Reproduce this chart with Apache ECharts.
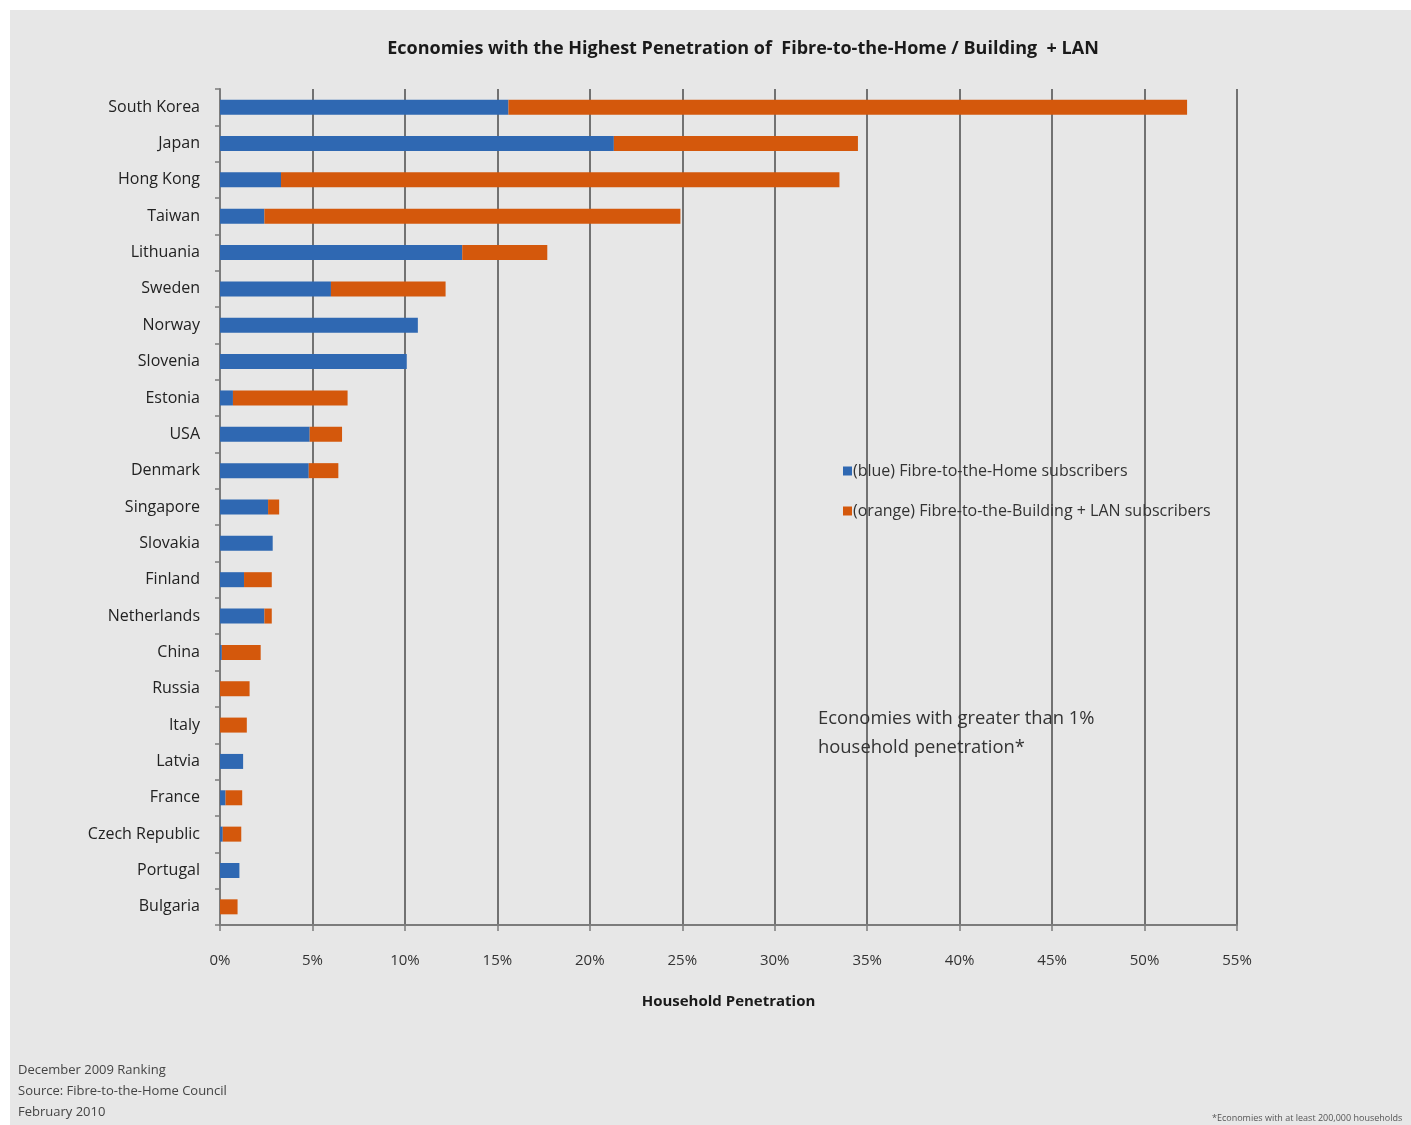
<!DOCTYPE html>
<html>
<head>
<meta charset="utf-8">
<script src="https://cdn.jsdelivr.net/npm/echarts@6/dist/echarts.min.js"></script>
<style>
  html, body { margin: 0; padding: 0; background: #ffffff; }
  #chart { width: 1411px; height: 1125px; }
</style>
</head>
<body>
<div id="chart"></div>
<script>
// Household penetration (%) by economy, December 2009 ranking
const categories = [
  'South Korea', 'Japan', 'Hong Kong', 'Taiwan', 'Lithuania', 'Sweden', 'Norway',
  'Slovenia', 'Estonia', 'USA', 'Denmark', 'Singapore', 'Slovakia', 'Finland',
  'Netherlands', 'China', 'Russia', 'Italy', 'Latvia', 'France', 'Czech Republic',
  'Portugal', 'Bulgaria'
];
// Fibre-to-the-Home share
const ftthValues = [
  15.6, 21.3, 3.3, 2.4, 13.1, 6.0, 10.7,
  10.1, 0.7, 4.85, 4.8, 2.6, 2.85, 1.3,
  2.4, 0.1, 0, 0, 1.25, 0.3, 0.15,
  1.05, 0
];
// Fibre-to-the-Building + LAN share (stacked on top of FTTH)
const fttbValues = [
  36.7, 13.2, 30.2, 22.5, 4.6, 6.2, 0,
  0, 6.2, 1.75, 1.6, 0.6, 0, 1.5,
  0.4, 2.1, 1.6, 1.45, 0, 0.9, 1.0,
  0, 0.95
];
const xTicks = { min: 0, max: 55, step: 5 };

const seriesNames = ['(blue) Fibre-to-the-Home subscribers', '(orange) Fibre-to-the-Building + LAN subscribers'];
const FONT = '"Open Sans", sans-serif';
const BLUE = '#2f68b2';
const ORANGE = '#d4580c';

const chart = echarts.init(document.getElementById('chart'), null, { renderer: 'canvas' });

chart.setOption({
  backgroundColor: '#ffffff',
  animation: false,
  textStyle: { fontFamily: FONT },
  title: {
    text: 'Economies with the Highest Penetration of  Fibre-to-the-Home / Building  + LAN',
    left: 738,
    textAlign: 'center',
    top: 35,
    textStyle: { fontFamily: FONT, fontSize: 18, fontWeight: 'bold', color: '#1a1a1a' }
  },
  grid: { left: 220, right: 174, top: 89, bottom: 200, containLabel: false },
  legend: {
    orient: 'vertical',
    left: 838,
    top: 458,
    itemWidth: 9,
    itemHeight: 9,
    itemGap: 24,
    icon: 'rect',
    textStyle: { fontFamily: FONT, fontSize: 16, color: '#333333', padding: [0, 0, 0, -4] },
    data: seriesNames
  },
  xAxis: {
    type: 'value',
    min: xTicks.min,
    max: xTicks.max,
    interval: xTicks.step,
    name: 'Household Penetration',
    nameLocation: 'middle',
    nameGap: 69,
    nameTextStyle: { fontFamily: FONT, fontSize: 15, fontWeight: 'bold', color: '#1a1a1a' },
    axisLine: { show: true, lineStyle: { color: '#7c7c7c', width: 2 } },
    axisTick: { show: true, length: 6, lineStyle: { color: '#7c7c7c', width: 1.5 } },
    axisLabel: { formatter: '{value}%', fontFamily: FONT, fontSize: 15, color: '#333333', margin: 28 },
    splitLine: { show: true, lineStyle: { color: '#727272', width: 2 } }
  },
  yAxis: {
    type: 'category',
    inverse: true,
    data: categories,
    axisLine: { show: true, lineStyle: { color: '#7c7c7c', width: 2 } },
    axisTick: { show: true, length: 5, lineStyle: { color: '#7c7c7c', width: 1.5 } },
    axisLabel: { fontFamily: FONT, fontSize: 16, color: '#222222', margin: 20 }
  },
  series: [
    {
      name: seriesNames[0],
      type: 'bar',
      stack: 'total',
      data: ftthValues,
      barWidth: 15,
      itemStyle: { color: BLUE },
      z: 3
    },
    {
      name: seriesNames[1],
      type: 'bar',
      stack: 'total',
      data: fttbValues,
      barWidth: 15,
      itemStyle: { color: ORANGE },
      z: 3
    }
  ],
  graphic: [
    {
      type: 'rect',
      left: 10, top: 10,
      shape: { width: 1401, height: 1115 },
      style: { fill: '#e7e7e7' },
      z: -10,
      silent: true
    },
    {
      type: 'text',
      left: 818, top: 704,
      style: {
        text: 'Economies with greater than 1%\nhousehold penetration*',
        font: '18.4px ' + FONT,
        fill: '#333333',
        lineHeight: 29
      },
      z: 10
    },
    {
      type: 'text',
      left: 18, top: 1060,
      style: {
        text: 'December 2009 Ranking\nSource: Fibre-to-the-Home Council\nFebruary 2010',
        font: '13px ' + FONT,
        fill: '#444444',
        lineHeight: 21
      },
      z: 10
    },
    {
      type: 'text',
      left: 1212, top: 1114,
      style: {
        text: '*Economies with at least 200,000 households',
        font: '9px ' + FONT,
        fill: '#555555'
      },
      z: 10
    }
  ]
});
</script>
</body>
</html>
